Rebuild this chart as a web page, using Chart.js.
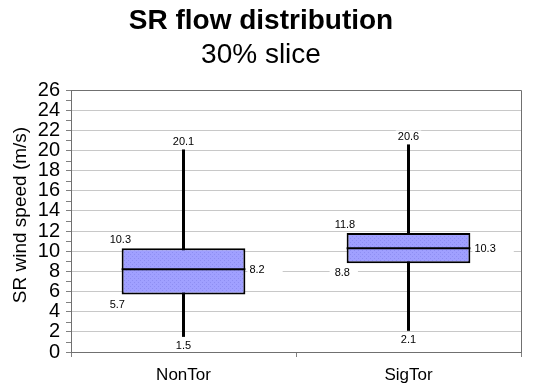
<!DOCTYPE html>
<html>
<head>
<meta charset="utf-8">
<script src="https://cdn.jsdelivr.net/npm/chart.js@4"></script>
<style>
  html, body { margin: 0; padding: 0; background: #ffffff; }
  #wrap { width: 533px; height: 389px; }
</style>
</head>
<body>
<div id="wrap"><canvas id="c" width="533" height="389"></canvas></div>
<script>
// ---- Data ----
const categories = ['NonTor', 'SigTor'];
const minVals = [1.5, 2.1];
const q1Vals = [5.7, 8.8];
const medianVals = [8.2, 10.3];
const q3Vals = [10.3, 11.8];
const maxVals = [20.1, 20.6];
const yMin = 0, yMax = 26, yStep = 2;
const titleText = 'SR flow distribution';
const subtitleText = '30% slice';
const yTitleText = 'SR wind speed (m/s)';

const FONT = '"Liberation Sans", Arial, sans-serif';

// dotted fill pattern for boxes
function makePattern() {
  const pc = document.createElement('canvas');
  pc.width = 4; pc.height = 4;
  const p = pc.getContext('2d');
  p.fillStyle = 'rgb(160,160,255)';
  p.fillRect(0, 0, 4, 4);
  p.fillStyle = 'rgb(142,142,242)';
  p.fillRect(0, 0, 1, 1);
  p.fillRect(2, 2, 1, 1);
  return document.getElementById('c').getContext('2d').createPattern(pc, 'repeat');
}

const boxPlugin = {
  id: 'boxExtras',
  beforeDatasetsDraw(chart) {
    const ctx = chart.ctx;
    const y = chart.scales.y;
    const meta = chart.getDatasetMeta(0);
    const area = chart.chartArea;
    ctx.save();
    // plot border (top and right)
    ctx.strokeStyle = '#707070';
    ctx.lineWidth = 1;
    ctx.beginPath();
    ctx.moveTo(area.left, area.top + 0.5);
    ctx.lineTo(area.right + 0.5, area.top + 0.5);
    ctx.lineTo(area.right + 0.5, area.bottom);
    ctx.stroke();
    // minor ticks at odd values
    ctx.strokeStyle = '#808080';
    ctx.beginPath();
    for (let v = yMin + yStep / 2; v < yMax; v += yStep) {
      const py = Math.round(y.getPixelForValue(v)) + 0.5;
      ctx.moveTo(area.left - 5, py);
      ctx.lineTo(area.left, py);
    }
    ctx.stroke();
    // whiskers
    ctx.strokeStyle = '#000';
    ctx.lineWidth = 3;
    meta.data.forEach((bar, i) => {
      ctx.beginPath();
      ctx.moveTo(bar.x, y.getPixelForValue(maxVals[i]));
      ctx.lineTo(bar.x, y.getPixelForValue(minVals[i]));
      ctx.stroke();
    });
    ctx.restore();
  },
  afterDatasetsDraw(chart) {
    const ctx = chart.ctx;
    const y = chart.scales.y;
    const meta = chart.getDatasetMeta(0);
    ctx.save();
    // medians
    ctx.strokeStyle = '#000';
    ctx.lineWidth = 2;
    meta.data.forEach((bar, i) => {
      const py = y.getPixelForValue(medianVals[i]);
      ctx.beginPath();
      ctx.moveTo(bar.x - bar.width / 2, py);
      ctx.lineTo(bar.x + bar.width / 2, py);
      ctx.stroke();
    });
    // value labels
    ctx.font = '11px ' + FONT;
    ctx.textBaseline = 'middle';
    function label(text, x, cy, align, bgL, bgR) {
      const w = ctx.measureText(text).width;
      let left = align === 'center' ? x - w / 2 : x;
      ctx.fillStyle = '#ffffff';
      ctx.fillRect(left - bgL, cy - 6, w + bgL + bgR, 12);
      ctx.fillStyle = '#000';
      ctx.textAlign = 'left';
      ctx.fillText(text, left, cy + 1);
    }
    meta.data.forEach((bar, i) => {
      const left = bar.x - bar.width / 2;
      const right = bar.x + bar.width / 2;
      label(maxVals[i].toFixed(1), bar.x, y.getPixelForValue(maxVals[i]) - 8, 'center', 2, 2);
      label(minVals[i].toFixed(1), bar.x, y.getPixelForValue(minVals[i]) + 8, 'center', 2, 2);
      label(q3Vals[i].toFixed(1), left - 12, y.getPixelForValue(q3Vals[i]) - 9, 'left', 5, 8);
      label(q1Vals[i].toFixed(1), left - 12, y.getPixelForValue(q1Vals[i]) + 9, 'left', 5, 8);
      label(medianVals[i].toFixed(1), right + 4, y.getPixelForValue(medianVals[i]), 'left', 2, 18);
    });
    ctx.restore();
  },
  afterDraw(chart) {
    const ctx = chart.ctx;
    ctx.save();
    ctx.fillStyle = '#000';
    ctx.textAlign = 'center';
    ctx.textBaseline = 'alphabetic';
    ctx.font = 'bold 28px ' + FONT;
    ctx.fillText(titleText, 261, 29);
    ctx.font = '28px ' + FONT;
    ctx.fillText(subtitleText, 261, 63);
    // y axis title
    ctx.translate(26, 215);
    ctx.rotate(-Math.PI / 2);
    ctx.font = '19px ' + FONT;
    ctx.fillText(yTitleText, 0, 0);
    ctx.restore();
  }
};

const chart = new Chart(document.getElementById('c'), {
  type: 'bar',
  data: {
    labels: categories,
    datasets: [{
      data: q1Vals.map((q1, i) => [q1, q3Vals[i]]),
      backgroundColor: makePattern(),
      borderColor: '#000',
      borderWidth: 2,
      borderSkipped: false,
      barPercentage: 0.55,
      categoryPercentage: 1.0
    }]
  },
  options: {
    responsive: false,
    animation: false,
    events: [],
    layout: { padding: { top: 90, right: 12, left: 0, bottom: 0 } },
    plugins: {
      legend: { display: false },
      title: { display: false },
      tooltip: { enabled: false }
    },
    scales: {
      x: {
        offset: true,
        grid: { offset: true, drawOnChartArea: false, drawTicks: true, tickLength: 5, color: '#808080' },
        border: { color: '#707070' },
        ticks: { color: '#000', font: { family: FONT, size: 17 }, padding: 8 },
        afterFit(s) { s.height = 37; }
      },
      y: {
        min: yMin, max: yMax,
        grid: { color: '#c8c8c8', tickLength: 5, tickColor: '#808080' },
        border: { color: '#707070' },
        ticks: { stepSize: yStep, autoSkip: false, color: '#000', font: { family: FONT, size: 20, lineHeight: 1 }, padding: 6 },
        afterFit(s) { s.width = 71; }
      }
    }
  },
  plugins: [boxPlugin]
});
</script>
</body>
</html>
